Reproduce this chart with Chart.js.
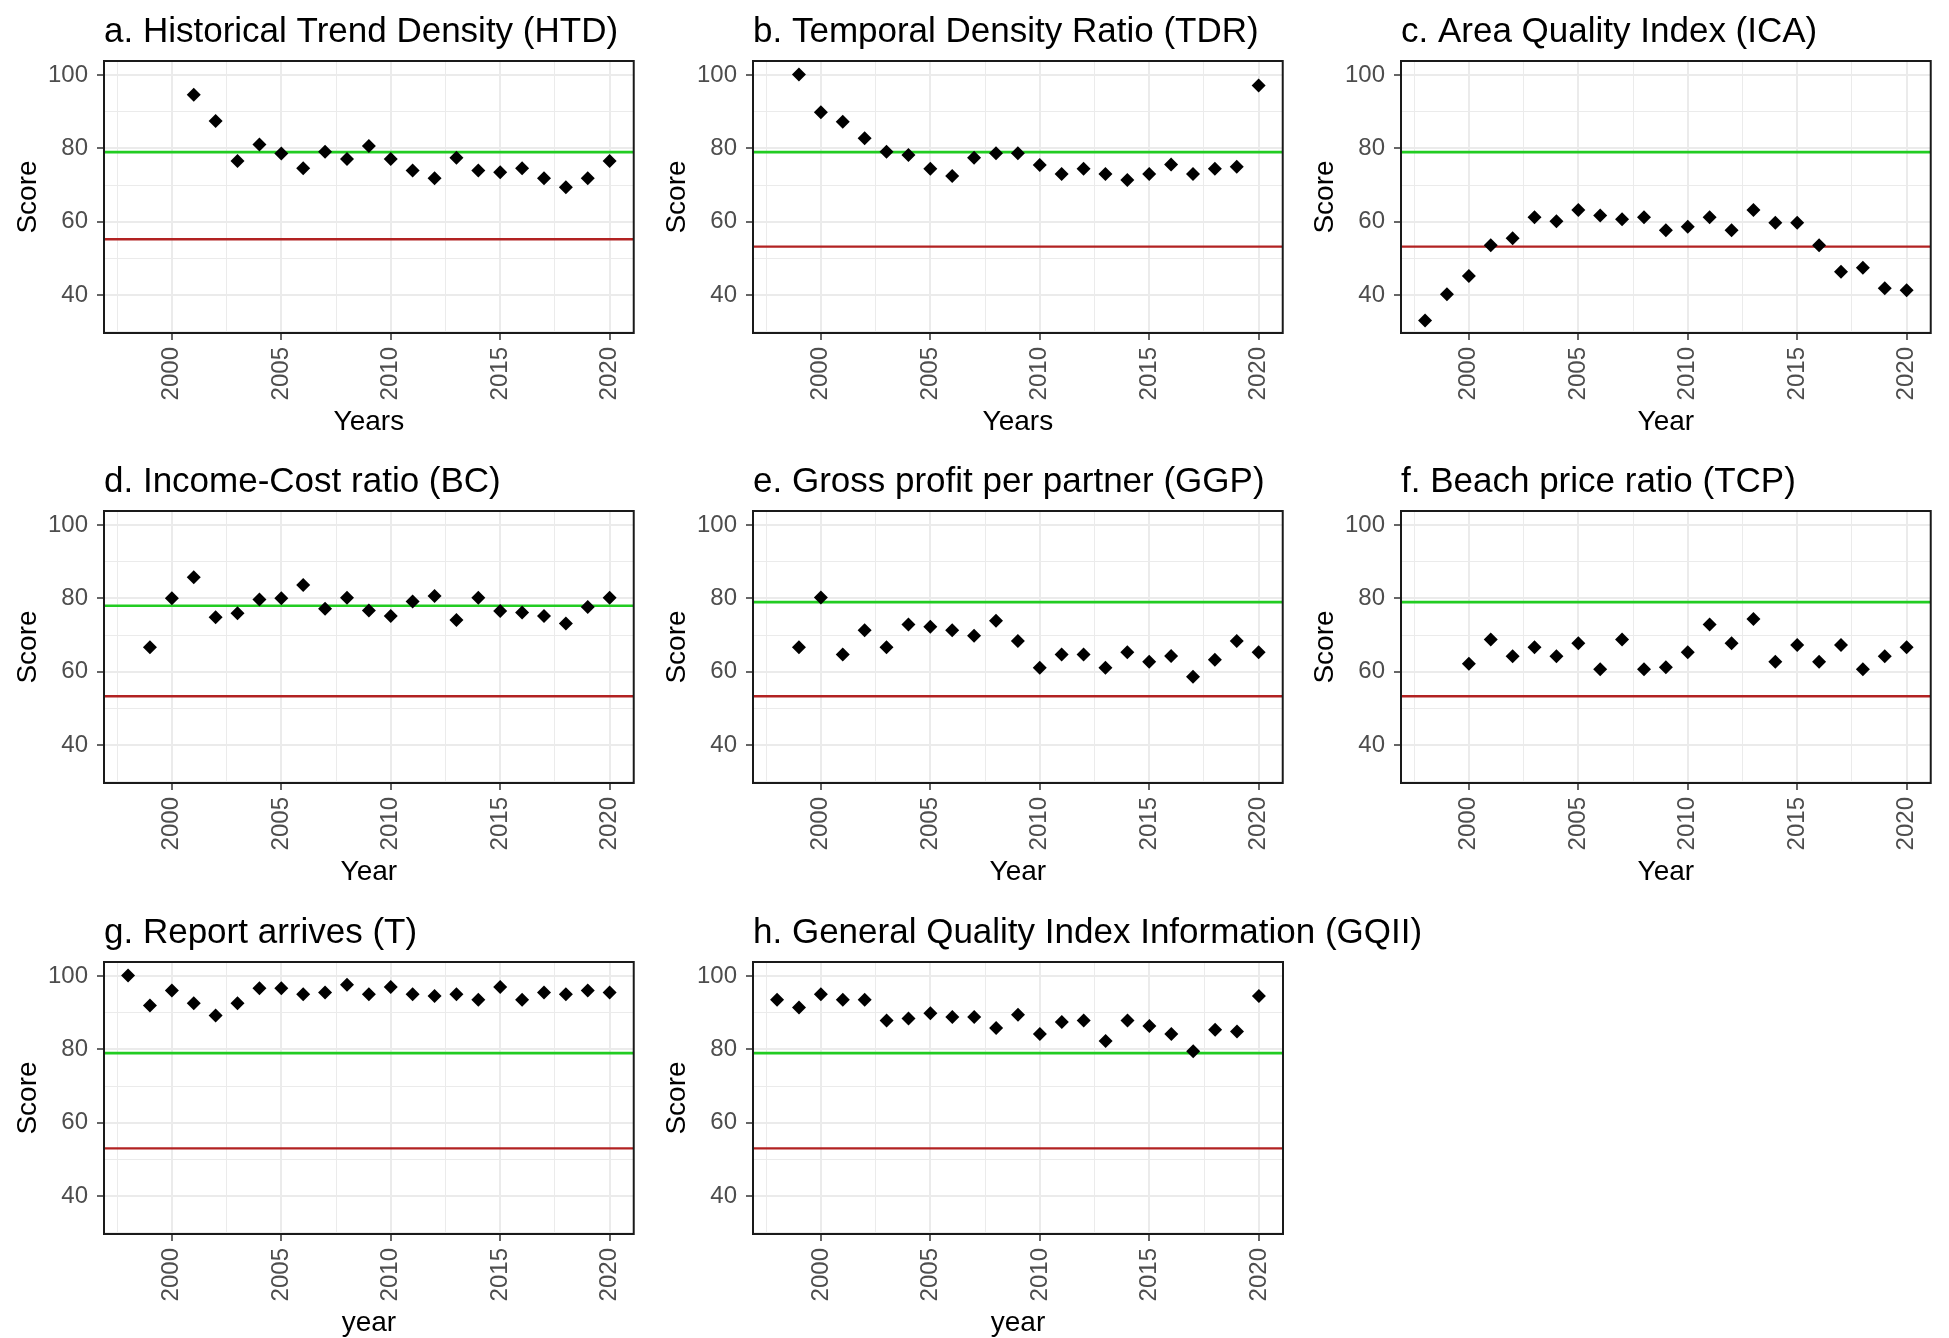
<!DOCTYPE html>
<html>
<head>
<meta charset="utf-8">
<script src="https://cdn.jsdelivr.net/npm/chart.js@4.4.1/dist/chart.umd.min.js"></script>
<style>
html,body{margin:0;padding:0;background:#fff;overflow:hidden;width:1949px;height:1338px;}
canvas{position:absolute;}
</style>
</head>
<body>
<script>
// ---------- DATA ----------
const years = [1998,1999,2000,2001,2002,2003,2004,2005,2006,2007,2008,2009,2010,2011,2012,2013,2014,2015,2016,2017,2018,2019,2020];

const HTD  = [null,null,null,94.7,87.5,76.6,81.1,78.6,74.6,79.1,77.1,80.7,77.1,74.0,71.9,77.5,74.0,73.5,74.6,71.9,69.4,71.9,76.6];
const TDR  = [null,100.2,89.9,87.3,82.8,79.1,78.2,74.5,72.5,77.5,78.7,78.7,75.5,73.0,74.5,73.0,71.4,73.0,75.6,73.0,74.5,75.0,97.2];
const ICA  = [33.0,40.2,45.2,53.6,55.5,61.2,60.1,63.2,61.7,60.7,61.2,57.7,58.6,61.2,57.7,63.2,59.7,59.7,53.6,46.3,47.4,41.8,41.3];
const BC   = [null,66.7,80.1,85.8,74.9,76.0,79.7,80.1,83.7,77.2,80.2,76.7,75.2,79.2,80.7,74.1,80.2,76.6,76.2,75.2,73.2,77.7,80.2];
const GGP  = [null,66.7,80.3,64.7,71.3,66.7,72.9,72.3,71.3,69.8,73.9,68.4,61.1,64.7,64.7,61.1,65.3,62.7,64.3,58.6,63.3,68.4,65.3];
const TCP  = [null,null,62.2,68.8,64.2,66.7,64.2,67.8,60.7,68.8,60.7,61.2,65.3,72.9,67.8,74.4,62.7,67.3,62.7,67.3,60.7,64.2,66.7];
const T    = [100.2,92.0,96.1,92.6,89.3,92.6,96.7,96.7,95.1,95.6,97.7,95.1,97.1,95.1,94.6,95.1,93.6,97.1,93.6,95.6,95.1,96.1,95.6];
const GQII = [93.6,91.5,95.1,93.6,93.6,87.9,88.5,89.9,88.9,88.9,85.9,89.5,84.2,87.5,87.9,82.3,87.9,86.4,84.2,79.5,85.4,84.9,94.6];

const titles  = ['a. Historical Trend Density (HTD)','b. Temporal Density Ratio (TDR)','c. Area Quality Index (ICA)',
                 'd. Income-Cost ratio (BC)','e. Gross profit per partner (GGP)','f. Beach price ratio (TCP)',
                 'g. Report arrives (T)','h. General Quality Index Information (GQII)'];
const xLabels = ['Years','Years','Year','Year','Year','Year','year','year'];
const series  = [HTD,TDR,ICA,BC,GGP,TCP,T,GQII];
const goodLine = [79,79,79,78,79,79,79,79];
const badLine  = [55.2,53.2,53.2,53.3,53.3,53.3,53,53];

const xTicks = [2000,2005,2010,2015,2020];
const xMinor = [1997.5,2002.5,2007.5,2012.5,2017.5];
const yTicks = [40,60,80,100];
const yMinor = [30,50,70,90];

// ---------- LAYOUT / STYLE ----------
const X_MIN = 1996.9, X_MAX = 2021.1, Y_MIN = 29.6, Y_MAX = 103.9;
const colLeft = [0,649,1297], rowTop = [0,450,901];
const Y_AXIS_W = 104, PLOT_W = 530, PLOT_H = 272, TOP = 61, X_AXIS_H = 104, RIGHT = 12;
const FONT = '"Liberation Sans", Arial, Helvetica, sans-serif';
const TICK_FONT = '"Liberation Sans Narrow", "Arial Narrow", "Liberation Sans", Arial, sans-serif';
const GREEN = '#22cc22', RED = '#b22222';

const decoPlugin = {
  id: 'panelDeco',
  afterDraw(chart, args, opts) {
    const {ctx, chartArea: a} = chart;
    ctx.save();
    ctx.strokeStyle = '#1a1a1a';
    ctx.lineWidth = 2;
    ctx.strokeRect(a.left, a.top, a.right - a.left, a.bottom - a.top);
    ctx.fillStyle = '#000';
    ctx.font = '35px ' + FONT;
    ctx.textAlign = 'left';
    ctx.textBaseline = 'alphabetic';
    ctx.fillText(opts.text, a.left, a.top - 19);
    ctx.restore();
  }
};

function makePanel(i) {
  const col = i % 3, row = Math.floor(i / 3);
  const extraRight = (i === 7) ? 220 : 0;
  const canvas = document.createElement('canvas');
  canvas.width = Y_AXIS_W + PLOT_W + RIGHT + extraRight;
  canvas.height = TOP + PLOT_H + X_AXIS_H;
  canvas.style.left = colLeft[col] + 'px';
  canvas.style.top = rowTop[row] + 'px';
  document.body.appendChild(canvas);

  const vals = series[i];
  const pts = [];
  years.forEach((yr, k) => { if (vals[k] !== null) pts.push({x: yr, y: vals[k]}); });

  const isMajX = v => xTicks.includes(v);
  const isMajY = v => yTicks.includes(v);

  new Chart(canvas, {
    type: 'scatter',
    data: {
      datasets: [
        {data: pts, pointStyle: 'rectRot', pointRadius: 7, pointHoverRadius: 7,
         pointBackgroundColor: '#000', pointBorderColor: '#000', pointBorderWidth: 0},
        {type: 'line', data: [{x: X_MIN, y: goodLine[i]}, {x: X_MAX, y: goodLine[i]}],
         borderColor: GREEN, borderWidth: 2.6, pointRadius: 0, fill: false},
        {type: 'line', data: [{x: X_MIN, y: badLine[i]}, {x: X_MAX, y: badLine[i]}],
         borderColor: RED, borderWidth: 2.4, pointRadius: 0, fill: false}
      ]
    },
    options: {
      responsive: false,
      animation: false,
      devicePixelRatio: 1,
      layout: {padding: {top: TOP, left: 0, right: RIGHT + extraRight, bottom: 0}},
      plugins: {legend: {display: false}, tooltip: {enabled: false}, title: {display: false},
                panelDeco: {text: titles[i]}},
      scales: {
        x: {
          type: 'linear', min: X_MIN, max: X_MAX,
          afterBuildTicks: s => { s.ticks = xMinor.concat(xTicks).sort((a,b)=>a-b).map(v => ({value: v})); },
          afterFit: s => { s.height = X_AXIS_H; },
          border: {display: false},
          grid: {
            color: '#ebebeb',
            lineWidth: c => (c.tick && isMajX(c.tick.value)) ? 2 : 1,
            drawTicks: true, tickLength: 7, tickWidth: 1.5,
            tickColor: c => (c.tick && isMajX(c.tick.value)) ? '#333333' : 'rgba(0,0,0,0)'
          },
          ticks: {
            autoSkip: false, minRotation: 90, maxRotation: 90, padding: 7,
            color: '#4d4d4d', font: {family: TICK_FONT, size: 24},
            callback: v => isMajX(v) ? String(v) : ''
          },
          title: {display: true, text: xLabels[i], color: '#000',
                  font: {family: FONT, size: 28}, padding: {top: 0, bottom: -2}}
        },
        y: {
          type: 'linear', min: Y_MIN, max: Y_MAX,
          afterBuildTicks: s => { s.ticks = yMinor.concat(yTicks).sort((a,b)=>a-b).map(v => ({value: v})); },
          afterFit: s => { s.width = Y_AXIS_W; },
          border: {display: false},
          grid: {
            color: '#ebebeb',
            lineWidth: c => (c.tick && isMajY(c.tick.value)) ? 2 : 1,
            drawTicks: true, tickLength: 7, tickWidth: 1.5,
            tickColor: c => (c.tick && isMajY(c.tick.value)) ? '#333333' : 'rgba(0,0,0,0)'
          },
          ticks: {
            autoSkip: false, padding: 9,
            color: '#4d4d4d', font: {family: TICK_FONT, size: 24},
            callback: v => isMajY(v) ? String(v) : ''
          },
          title: {display: true, text: 'Score', color: '#000',
                  font: {family: FONT, size: 28}, padding: {top: 11, bottom: 0}}
        }
      }
    },
    plugins: [decoPlugin]
  });
}

for (let i = 0; i < 8; i++) makePanel(i);
</script>
</body>
</html>
